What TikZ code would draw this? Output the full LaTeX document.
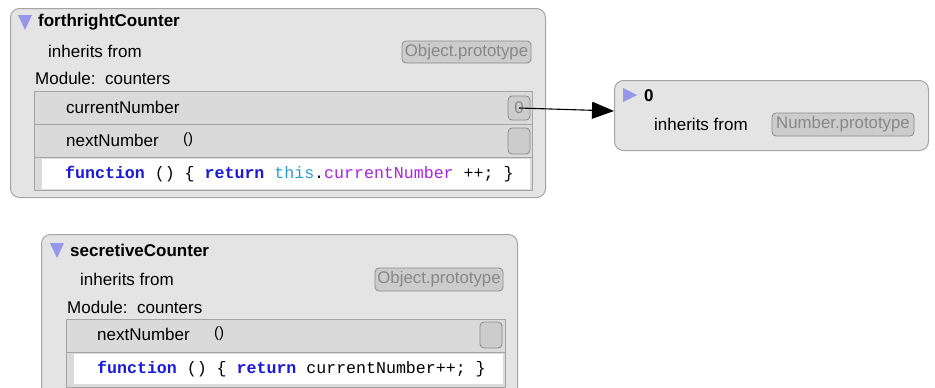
\documentclass[tikz,border=0pt]{standalone}
\usepackage{fontspec}
\setmainfont{Liberation Sans}
\setmonofont{Liberation Mono}
\usetikzlibrary{arrows.meta, positioning}
\definecolor{panelgray}{RGB}{228,228,228}
\definecolor{panelline}{RGB}{165,165,165}
\definecolor{rowgray}{RGB}{218,218,218}
\definecolor{btngray}{RGB}{204,204,204}
\definecolor{btnline}{RGB}{140,140,140}
\definecolor{btntext}{RGB}{135,135,135}
\definecolor{trianglue}{RGB}{150,150,235}
\definecolor{kwblue}{RGB}{25,25,215}
\definecolor{thiscyan}{RGB}{45,155,205}
\definecolor{propviolet}{RGB}{170,35,230}

\begin{document}
\begin{tikzpicture}[x=1pt, y=-1pt,
    panel/.style={draw=panelline, fill=panelgray, rounded corners=9pt, line width=1pt, anchor=north west, inner sep=0pt},
    rowbox/.style={draw=panelline, fill=rowgray, line width=0.8pt, anchor=north west, inner sep=0pt},
    codebox/.style={fill=white, anchor=north west, inner sep=0pt},
    btn/.style={draw=btnline, fill=btngray, rounded corners=4pt, line width=0.8pt, text=btntext, font=\fontsize{16.8}{17}\selectfont, inner sep=0pt},
    lbl/.style={anchor=west, inner sep=0pt, font=\fontsize{17}{19}\selectfont},
    ttl/.style={anchor=west, inner sep=0pt, font=\fontsize{17}{19}\selectfont\bfseries},
    parens/.style={anchor=west, inner sep=0pt, font=\fontsize{15}{17}\selectfont},
    codeline/.style={anchor=west, inner sep=0pt, font=\ttfamily\fontsize{16.6}{17}\selectfont}
]
    \clip (0,0) rectangle (935,388);

    % forthrightCounter
    \node[panel, minimum width=535pt, minimum height=189pt] (fwd) at (10,8) {};
    \fill[trianglue] (18,15) -- (32,15) -- (25,30) -- cycle;
    \node[ttl] (fwdname) at (38,22) {forthrightCounter};
    \node[lbl] (fwdinh) at (48,51) {inherits from};
    \node[btn, minimum width=129pt, minimum height=22pt] (fwdproto) at (466.5,52) {Object.prototype};
    \node[lbl] (fwdmod) at (35,78) {Module:\ \ counters};
    \node[rowbox, minimum width=498pt, minimum height=33pt] (fwdrowa) at (34,91) {};
    \node[rowbox, minimum width=498pt, minimum height=33pt] (fwdrowb) at (34,124) {};
    \node[rowbox, minimum width=498pt, minimum height=33pt] (fwdrowc) at (34,157) {};
    \node[codebox, minimum width=488pt, minimum height=30pt] (fwdcode) at (42,159) {};
    \node[lbl] (curnum) at (66,107) {currentNumber};
    \node[btn, minimum width=22pt, minimum height=24pt] (zerobtn) at (519,108) {0};
    \node[lbl] (fwdnext) at (66,140) {nextNumber};
    \node[parens] (fwdpar) at (183,140) {()};
    \node[btn, minimum width=22pt, minimum height=26pt] (fwdnextbtn) at (519,141) {};
    \node[codeline] (fwdsrc) at (65,174) {{\color{kwblue}\bfseries function} () \{ {\color{kwblue}\bfseries return} {\color{thiscyan}this}.{\color{propviolet}currentNumber} ++; \}};

    % the number 0
    \node[panel, minimum width=314pt, minimum height=70pt] (zerobox) at (614,80) {};
    \fill[trianglue] (623,88) -- (637,95) -- (623,102) -- cycle;
    \node[ttl] (zeroname) at (644,96) {0};
    \node[lbl] (zeroinh) at (654,124) {inherits from};
    \node[btn, minimum width=142pt, minimum height=23pt] (numproto) at (843,124.5) {Number.prototype};

    % secretiveCounter
    \node[panel, minimum width=476pt, minimum height=180pt] (sec) at (41,234) {};
    \fill[trianglue] (50,243) -- (64,243) -- (57,258) -- cycle;
    \node[ttl] (secname) at (70,250) {secretiveCounter};
    \node[lbl] (secinh) at (80,279) {inherits from};
    \node[btn, minimum width=128pt, minimum height=23pt] (secproto) at (439,279.5) {Object.prototype};
    \node[lbl] (secmod) at (67,307) {Module:\ \ counters};
    \node[rowbox, minimum width=439pt, minimum height=33pt] (secrowa) at (66,319) {};
    \node[rowbox, minimum width=439pt, minimum height=35pt] (secrowb) at (66,352) {};
    \node[codebox, minimum width=429pt, minimum height=30pt] (seccode) at (74,354) {};
    \node[lbl] (secnext) at (97,334) {nextNumber};
    \node[parens] (secpar) at (214,334) {()};
    \node[btn, minimum width=22pt, minimum height=26pt] (secnextbtn) at (491,335) {};
    \node[codeline] (secsrc) at (97,369) {{\color{kwblue}\bfseries function} () \{ {\color{kwblue}\bfseries return} currentNumber++; \}};

    % reference to the number
    \draw[line width=1.1pt, -{Triangle[length=22pt, width=17pt]}] (zerobtn.center) -- (zerobox.west |- 0,111);
\end{tikzpicture}
\end{document}
